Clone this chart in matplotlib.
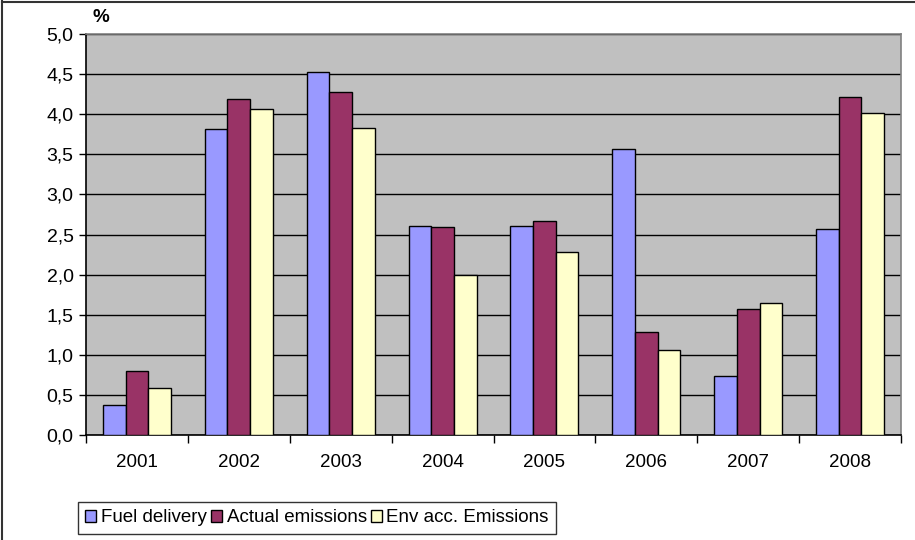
import matplotlib
matplotlib.use("Agg")
import matplotlib.pyplot as plt
import numpy as np
from matplotlib.lines import Line2D

plt.rcParams['font.family'] = ['Liberation Sans', 'DejaVu Sans']

years = ['2001', '2002', '2003', '2004', '2005', '2006', '2007', '2008']
fuel_delivery = [0.37, 3.81, 4.52, 2.61, 2.61, 3.57, 0.74, 2.57]
actual_emissions = [0.80, 4.19, 4.28, 2.59, 2.67, 1.29, 1.57, 4.22]
env_acc_emissions = [0.58, 4.06, 3.83, 2.00, 2.28, 1.06, 1.64, 4.02]
series_names = ['Fuel delivery', 'Actual emissions', 'Env acc. Emissions']
series_colors = ['#9999FF', '#993366', '#FFFFCC']
yticks = [0.0, 0.5, 1.0, 1.5, 2.0, 2.5, 3.0, 3.5, 4.0, 4.5, 5.0]

fig = plt.figure(figsize=(9.15, 5.4), dpi=100)
ax = fig.add_axes([86 / 915, 1 - 435 / 540, 815 / 915, 401 / 540])
ax.set_facecolor('#C0C0C0')

x = np.arange(len(years))
width = 1 / 4.5
for i, (vals, name, col) in enumerate(zip([fuel_delivery, actual_emissions, env_acc_emissions],
                                          series_names, series_colors)):
    ax.bar(x + (i - 1) * width, vals, width, color=col, edgecolor='black',
           linewidth=1.0, label=name, zorder=3)

ax.set_xlim(-0.5, len(years) - 0.5)
ax.set_ylim(0, 5)
ax.set_yticks(yticks)
ax.set_yticklabels([f"{v:.1f}".replace('.', ',') for v in yticks], fontsize=14)
ax.yaxis.grid(True, color='black', linewidth=1.0, zorder=1)
ax.set_axisbelow(True)

# category labels centred, tick marks at category boundaries
ax.set_xticks(x)
ax.set_xticklabels(years, fontsize=13.5)
ax.tick_params(axis='x', length=0, pad=14)
ax.set_xticks(np.arange(len(years) + 1) - 0.5, minor=True)
ax.tick_params(axis='x', which='minor', length=6, width=1, color='black', direction='out')
ax.tick_params(axis='y', length=5, width=1, color='black', direction='out', pad=4)

ax.spines['left'].set_color('black')
ax.spines['bottom'].set_color('black')
ax.spines['top'].set_color('#808080')
ax.spines['right'].set_color('#808080')
for s in ax.spines.values():
    s.set_linewidth(1.2)

fig.text(101 / 915, 1 - 18 / 540, '%', fontsize=13.5, fontweight='bold',
         ha='center', va='center')

leg = fig.legend(loc='center', bbox_to_anchor=(317 / 915, 1 - 518 / 540), ncol=3,
                 fontsize=13.5, frameon=True, fancybox=False, edgecolor='black',
                 handlelength=0.6, handleheight=0.6, handletextpad=0.25,
                 columnspacing=0.2, borderpad=0.4, borderaxespad=0)
leg.get_frame().set_linewidth(1.0)

# chart area border
fig.add_artist(Line2D([2 / 915, 2 / 915], [0, 1 - 1 / 540], color='#333333', linewidth=1.5))
fig.add_artist(Line2D([2 / 915, 1], [1 - 1.5 / 540, 1 - 1.5 / 540], color='#333333', linewidth=1.5))

fig.savefig('out.png', dpi=100)
